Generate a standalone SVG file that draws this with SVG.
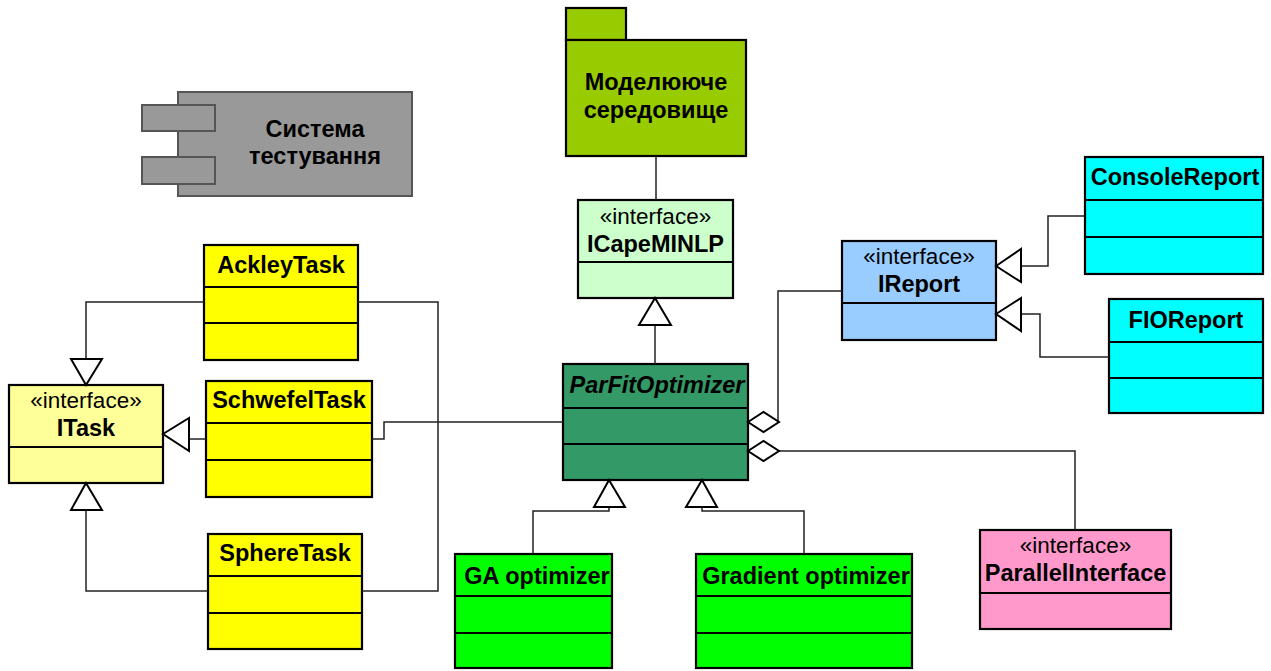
<svg xmlns="http://www.w3.org/2000/svg" width="1271" height="671" viewBox="0 0 1271 671">
<style>
.box{stroke:#000;stroke-width:2.2}
.div{stroke:#000;stroke-width:2.2}
.t{font-family:"Liberation Sans",Arial,sans-serif;font-size:23.5px;text-anchor:middle;fill:#000}
.b{font-weight:bold}
.st{font-family:"Liberation Sans",Arial,sans-serif;font-size:22.5px;text-anchor:middle;fill:#000}
.c{fill:none;stroke:#222;stroke-width:1.5}
.tri{fill:#fff;stroke:#000;stroke-width:2}
.dia{fill:#fff;stroke:#000;stroke-width:2}
</style>
<rect width="1271" height="671" fill="#fff"/>

<g id="component">
<rect x="178" y="92" width="234" height="104" fill="#999999" stroke="#555" stroke-width="2"/>
<rect x="142" y="105" width="73" height="26" fill="#999999" stroke="#555" stroke-width="2"/>
<rect x="142" y="157" width="73" height="27" fill="#999999" stroke="#555" stroke-width="2"/>
<text class="t b" x="315" y="137">Система</text>
<text class="t b" x="315" y="164">тестування</text>
</g>

<g id="package">
<rect x="566" y="8" width="60" height="32" fill="#99CC00" class="box"/>
<rect x="566" y="40" width="180" height="116" fill="#99CC00" class="box"/>
<text class="t b" x="656" y="90">Моделююче</text>
<text class="t b" x="656" y="118">середовище</text>
</g>

<g id="ICapeMINLP">
<rect x="578" y="200" width="155" height="98" fill="#CCFFCC" class="box"/>
<line x1="578" y1="262" x2="733" y2="262" class="div"/>
<text class="st" x="655.5" y="224">«interface»</text>
<text class="t b" x="655.5" y="252">ICapeMINLP</text>
</g>

<g id="ParFitOptimizer">
<rect x="563" y="364" width="185" height="116" fill="#339966" class="box"/>
<line x1="563" y1="408" x2="748" y2="408" class="div"/>
<line x1="563" y1="444" x2="748" y2="444" class="div"/>
<text class="t b" x="657" y="393" font-style="italic">ParFitOptimizer</text>
</g>

<g id="IReport">
<rect x="842" y="241" width="154" height="99" fill="#99CCFF" class="box"/>
<line x1="842" y1="303" x2="996" y2="303" class="div"/>
<text class="st" x="919" y="264">«interface»</text>
<text class="t b" x="919" y="292">IReport</text>
</g>

<g id="ConsoleReport">
<rect x="1085" y="157" width="178" height="117" fill="#00FFFF" class="box"/>
<line x1="1085" y1="200" x2="1263" y2="200" class="div"/>
<line x1="1085" y1="237" x2="1263" y2="237" class="div"/>
<text class="t b" x="1175" y="185">ConsoleReport</text>
</g>

<g id="FIOReport">
<rect x="1109" y="299" width="154" height="114" fill="#00FFFF" class="box"/>
<line x1="1109" y1="342" x2="1263" y2="342" class="div"/>
<line x1="1109" y1="378" x2="1263" y2="378" class="div"/>
<text class="t b" x="1186" y="328">FIOReport</text>
</g>

<g id="ITask">
<rect x="9" y="385" width="154" height="98" fill="#FFFF99" class="box"/>
<line x1="9" y1="447" x2="163" y2="447" class="div"/>
<text class="st" x="86" y="408">«interface»</text>
<text class="t b" x="86" y="436">ITask</text>
</g>

<g id="AckleyTask">
<rect x="204" y="245" width="154" height="115" fill="#FFFF00" class="box"/>
<line x1="204" y1="287" x2="358" y2="287" class="div"/>
<line x1="204" y1="323" x2="358" y2="323" class="div"/>
<text class="t b" x="281" y="273">AckleyTask</text>
</g>

<g id="SchwefelTask">
<rect x="206" y="381" width="166" height="116" fill="#FFFF00" class="box"/>
<line x1="206" y1="423" x2="372" y2="423" class="div"/>
<line x1="206" y1="460" x2="372" y2="460" class="div"/>
<text class="t b" x="289" y="408">SchwefelTask</text>
</g>

<g id="SphereTask">
<rect x="208" y="534" width="154" height="115" fill="#FFFF00" class="box"/>
<line x1="208" y1="576" x2="362" y2="576" class="div"/>
<line x1="208" y1="613" x2="362" y2="613" class="div"/>
<text class="t b" x="285" y="561">SphereTask</text>
</g>

<g id="GAoptimizer">
<rect x="455" y="554" width="157" height="114" fill="#00FF00" class="box"/>
<line x1="455" y1="596" x2="612" y2="596" class="div"/>
<line x1="455" y1="633" x2="612" y2="633" class="div"/>
<text class="t b" x="537" y="584">GA optimizer</text>
</g>

<g id="GradientOptimizer">
<rect x="696" y="554" width="216" height="114" fill="#00FF00" class="box"/>
<line x1="696" y1="596" x2="912" y2="596" class="div"/>
<line x1="696" y1="633" x2="912" y2="633" class="div"/>
<text class="t b" x="806" y="584">Gradient optimizer</text>
</g>

<g id="ParallelInterface">
<rect x="980" y="530" width="191" height="99" fill="#FF99CC" class="box"/>
<line x1="980" y1="593" x2="1171" y2="593" class="div"/>
<text class="st" x="1075.5" y="553">«interface»</text>
<text class="t b" x="1075.5" y="581">ParallelInterface</text>
</g>

<g id="connectors">
<polyline class="c" points="656,156 656,200"/>
<polyline class="c" points="655,325 655,364"/>
<polygon class="tri" points="655,298 639,325 671,325"/>

<polyline class="c" points="204,302 86,302 86,359"/>
<polygon class="tri" points="86,385 71,359 102,359"/>
<polyline class="c" points="206,439 189,439"/>
<polygon class="tri" points="163,434 189,418 189,451"/>
<polyline class="c" points="208,591 86,591 86,510"/>
<polygon class="tri" points="86,483 71,510 102,510"/>

<polyline class="c" points="358,302 438,302 438,591 362,591"/>
<polyline class="c" points="563,422 384,422 384,439 372,439"/>

<polyline class="c" points="779,422 778,422 778,291 842,291"/>
<polygon class="dia" points="748,422 763.5,412 779,422 763.5,432"/>
<polyline class="c" points="779,451 1075,451 1075,530"/>
<polygon class="dia" points="748,451 763.5,441 779,451 763.5,461"/>

<polyline class="c" points="1085,216 1048,216 1048,266 1021,266"/>
<polygon class="tri" points="996,266 1021,249 1021,282"/>
<polyline class="c" points="1109,357 1040,357 1040,314 1021,314"/>
<polygon class="tri" points="996,314 1021,298 1021,331"/>

<polyline class="c" points="609,507 609,511 533,511 533,554"/>
<polygon class="tri" points="609,480 594,507 625,507"/>
<polyline class="c" points="702,507 702,511 804,511 804,554"/>
<polygon class="tri" points="702,480 686,507 717,507"/>
</g>
</svg>
